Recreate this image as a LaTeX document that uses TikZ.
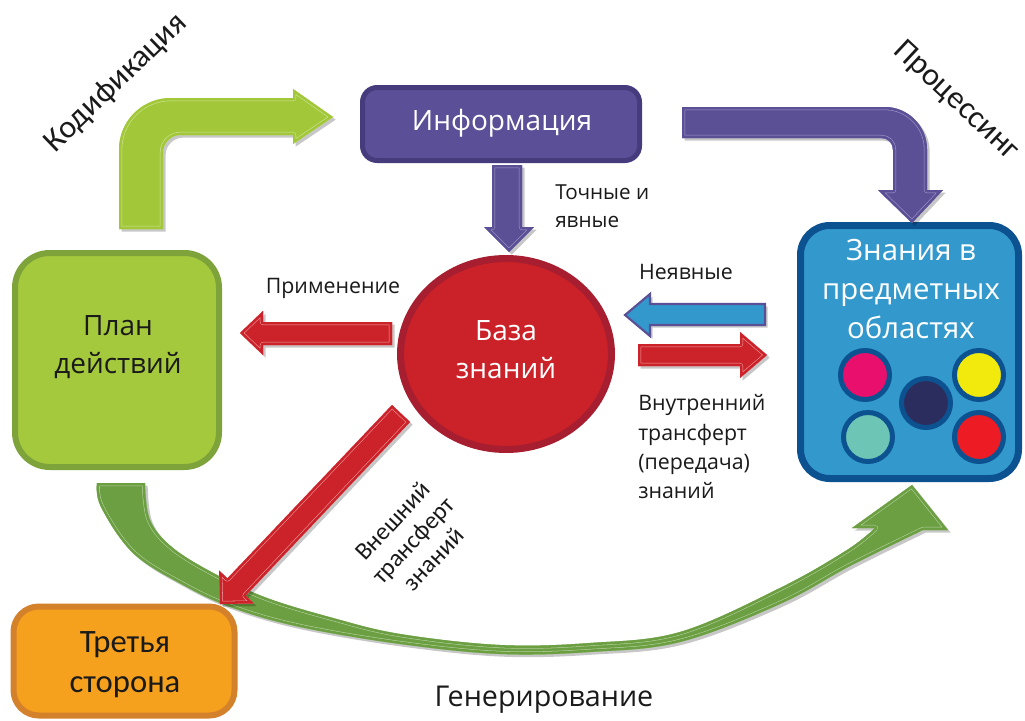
\documentclass[tikz,border=0pt]{standalone}
\usepackage{fontspec}
\setmainfont{Open Sans}
\newfontfamily\calib{Carlito}
\usetikzlibrary{shapes.geometric,shadows}
\definecolor{infoF}{HTML}{5B4F97}
\definecolor{infoB}{HTML}{463B7C}
\definecolor{planF}{HTML}{A5C93D}
\definecolor{planB}{HTML}{7DA33A}
\definecolor{kbF}{HTML}{CB2128}
\definecolor{kbB}{HTML}{A61E2F}
\definecolor{blueF}{HTML}{3399CC}
\definecolor{blueB}{HTML}{0C5290}
\definecolor{orF}{HTML}{F6A11D}
\definecolor{orB}{HTML}{D4812C}
\definecolor{gLight}{HTML}{A2C83A}
\definecolor{gLightL}{HTML}{D2E6A0}
\definecolor{gDark}{HTML}{6B9F42}
\definecolor{gDarkL}{HTML}{B9D3A4}
\definecolor{pArr}{HTML}{5B4F96}
\definecolor{pArrL}{HTML}{A69DCB}
\definecolor{rArr}{HTML}{CC2229}
\definecolor{rArrL}{HTML}{EFA3A6}
\definecolor{cMag}{HTML}{E8106C}
\definecolor{cYel}{HTML}{F2EA0D}
\definecolor{cNavy}{HTML}{2B2D5E}
\definecolor{cTeal}{HTML}{6CC5B5}
\definecolor{cRed}{HTML}{ED1C24}
\definecolor{txt}{HTML}{1A1A1A}
\tikzset{
  ashadow/.style={drop shadow={opacity=0.22,shadow xshift=2pt,shadow yshift=-2pt,fill=black}},
  boxnode/.style={draw, rectangle, inner sep=0pt},
  dot/.style={circle, draw=blueB, line width=3.75pt, minimum size=36.75pt, inner sep=0pt},
  lbl/.style={text=txt, inner sep=0pt, font=\fontsize{16}{21}\selectfont},
  wlbl/.style={text=white, inner sep=0pt, align=center},
}
\newcommand\blockarrow[3]{%
  \fill[#1,ashadow] #3;
  \begin{scope}
    \clip #3;
    \draw[#2,line width=4.6pt,line join=round] #3;
    \draw[#1,line width=3.8pt,line join=round] #3;
  \end{scope}}
\begin{document}
\begin{tikzpicture}[x=0.75pt,y=-0.75pt]
\useasboundingbox (0,0) rectangle (1025,721);
\fill[white] (0,0) rectangle (1025,721);

% boxes
\node[boxnode, draw=infoB, fill=infoF, line width=3.75pt, rounded corners=11pt,
  minimum width=207.75pt, minimum height=54.75pt] (info) at (501,124) {};
\node[boxnode, draw=planB, fill=planF, line width=4.5pt, rounded corners=26pt,
  minimum width=153pt, minimum height=160.5pt] (plan) at (117,360) {};
\node[boxnode, draw=blueB, fill=blueF, line width=5.25pt, rounded corners=22pt,
  minimum width=163.5pt, minimum height=189.75pt] (dom) at (909.5,352) {};
\node[ellipse, draw=kbB, fill=kbF, line width=5.25pt, inner sep=0pt,
  minimum width=158.25pt, minimum height=143.25pt] (kb) at (506,354) {};

% coloured dots
\node[dot, fill=cMag]  (d1) at (865,375) {};
\node[dot, fill=cYel]  (d2) at (979,375) {};
\node[dot, fill=cNavy] (d3) at (926,403) {};
\node[dot, fill=cTeal] (d4) at (868,437) {};
\node[dot, fill=cRed]  (d5) at (979,437) {};

% generation arrow (green curved)
\blockarrow{gDark}{gDarkL}{(97,483) -- plot[smooth, tension=0.6] coordinates {(97,483) (101,507) (133,553) (183,585) (233,608) (300,627) (400,644) (500,654) (590,652) (680,642) (780,604) (850,566) (923,530)} -- (948,530) -- (912,485) -- (852,528) -- (875,528) -- plot[smooth, tension=0.6] coordinates {(875,528) (847,550) (780,588) (680,632) (590,643) (500,645) (400,634) (333,618) (267,598) (217,575) (173,548) (150,520) (145,483)} -- cycle}

% third party box
\node[boxnode, draw=orB, fill=orF, line width=4.5pt, rounded corners=19pt,
  minimum width=165.75pt, minimum height=81.75pt] (third) at (124,661) {};

% codification arrow (light green, bent)
\blockarrow{gLight}{gLightL}{(119,229) -- (119,150) .. controls (119,121) and (142,98) .. (171,98) -- (293,98) -- (293,89) -- (333,117) -- (293,144) -- (293,135) -- (180,135) .. controls (171,135) and (163,143) .. (163,152) -- (163,229) -- cycle}

% processing arrow (purple, bent)
\blockarrow{pArr}{pArrL}{(682,107) -- (885,107) .. controls (908,107) and (927,126) .. (927,149) -- (927,190) -- (943,190) -- (912,223) -- (878,190) -- (893,190) -- (893,150) .. controls (893,143) and (888,138) .. (881,138) -- (682,138) -- cycle}

% exact and explicit (purple down)
\blockarrow{pArr}{pArrL}{(492,165) -- (522,165) -- (522,227) -- (534,227) -- (509,252) -- (484,227) -- (492,227) -- cycle}

% application (red left)
\blockarrow{rArr}{rArrL}{(392,322) -- (263,322) -- (263,311) -- (240,333) -- (263,355) -- (263,345) -- (392,345) -- cycle}

% implicit (blue left)
\fill[blueF, draw=pArr, line width=1.6pt, ashadow] (765,304) -- (650,304) -- (650,294) -- (625,315) -- (650,336) -- (650,325) -- (765,325) -- cycle;

% internal transfer (red right)
\blockarrow{rArr}{rArrL}{(638,344) -- (740,344) -- (740,332) -- (767,355) -- (740,378) -- (740,366) -- (638,366) -- cycle}

% external transfer (red diagonal)
\blockarrow{rArr}{rArrL}{(392,405) -- (227.4,578.4) -- (219.1,570.5) -- (220,604) -- (253.9,603.5) -- (245.6,595.6) -- (410,422) -- cycle}

% box texts
\node[wlbl, font=\fontsize{21}{25}\selectfont] (tinfo) at (502,123) {Информация};
\node[lbl, align=center, font=\fontsize{21}{28}\selectfont] (tplan) at (118,347) {План\\действий};
\node[wlbl, font=\fontsize{21}{28.5}\selectfont] (tkb) at (506,350) {База\\знаний};
\node[wlbl, font=\fontsize{22}{29}\selectfont] (tdom) at (911,289) {Знания в\\предметных\\областях};
\node[lbl, align=center, font=\calib\fontsize{24.5}{30}\selectfont] (tthird) at (125,665) {Третья\\сторона};

% labels
\node[lbl, rotate=44, font=\calib\fontsize{24}{30}\selectfont] (tcod) at (116,83) {Кодификация};
\node[lbl, rotate=-43, font=\calib\fontsize{24}{30}\selectfont] (tproc) at (956,101) {Процессинг};
\node[lbl, anchor=west, align=left, font=\fontsize{15.5}{21}\selectfont] (texact) at (555,206) {Точные и\\явные};
\node[lbl] (tappl) at (333,288) {Применение};
\node[lbl] (timpl) at (686,272) {Неявные};
\node[lbl, anchor=west, align=left, font=\fontsize{16}{22}\selectfont] (tint) at (638,447) {Внутренний\\трансферт\\(передача)\\знаний};
\node[lbl, rotate=47, align=center, font=\calib\fontsize{18.5}{21}\selectfont] (text) at (413,540) {Внешний\\трансферт\\знаний};
\node[lbl, font=\fontsize{21.5}{26}\selectfont] (tgen) at (544,700) {Генерирование};
\end{tikzpicture}
\end{document}
